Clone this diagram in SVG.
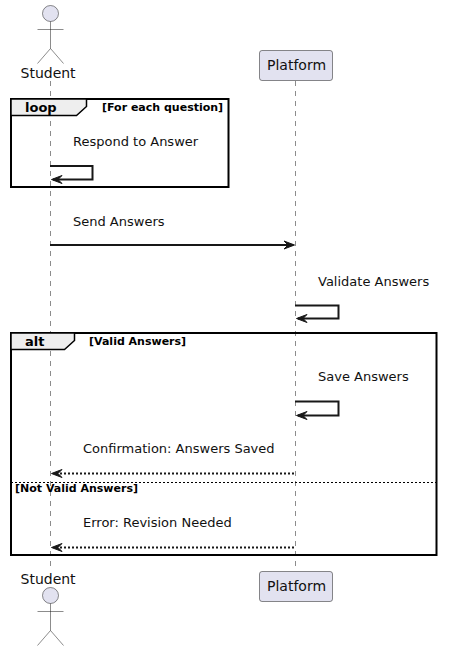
<svg xmlns="http://www.w3.org/2000/svg" width="450" height="651" viewBox="0 0 450 651">
<style>
text{font-family:"DejaVu Sans",sans-serif;fill:#000}
.name{font-size:14px;fill:#111}
.msg{font-size:13px;fill:#111}
.title{font-size:13px;font-weight:bold}
.cond{font-size:11px;font-weight:bold}
.life{stroke:#181818;stroke-width:.5;stroke-dasharray:5 5;fill:none}
.actor{fill:#E2E2F0;stroke:#181818;stroke-width:.5}
.limb{fill:none;stroke:#181818;stroke-width:.5}
.box{fill:#E2E2F0;stroke:#181818;stroke-width:.5}
.frame{fill:none;stroke:#000;stroke-width:2}
.tab{fill:#EEEEEE;stroke:#000;stroke-width:1.5}
.m{fill:none;stroke:#181818;stroke-width:2}
.d{stroke-dasharray:2 2}
.sep{stroke:#000;stroke-width:1;stroke-dasharray:2 2;fill:none}
.head{fill:#181818;stroke:#181818;stroke-width:1}
</style>
<g id="lifelines">
<line class="life" x1="50.5" y1="81" x2="50.5" y2="571"/>
<line class="life" x1="295.5" y1="81" x2="295.5" y2="571"/>
</g>
<g id="loop-frame">
<rect class="frame" x="11" y="99" width="217.500" height="88"/>
<path class="tab" d="M11 99H86.500V106.500L76.500 115.500H11Z"/>
<text class="title" x="25" y="112">loop</text>
<text class="cond" x="102" y="111">[For each question]</text>
</g>
<g id="alt-frame">
<rect class="frame" x="11" y="333" width="425.500" height="222"/>
<path class="tab" d="M11 333H74.500V340.500L64.500 349.500H11Z"/>
<text class="title" x="25" y="346">alt</text>
<text class="cond" x="89" y="345">[Valid Answers]</text>
<line class="sep" x1="11" y1="482.500" x2="436" y2="482.500"/>
<text class="cond" x="15" y="492">[Not Valid Answers]</text>
</g>
<g id="connectors">
<path class="m" d="M50 166H92.500V179.500H53"/>
<path class="head" d="M62 175.500 51.500 179.500 62 183.500 58 179.500Z"/>
<line class="m" x1="50" y1="245" x2="293" y2="245"/>
<path class="head" d="M284 241 294.500 245 284 249 288 245Z"/>
<path class="m" d="M295 305.500H338.500V318.500H298"/>
<path class="head" d="M307 314.500 296.500 318.500 307 322.500 303 318.500Z"/>
<path class="m" d="M295 401.500H338.500V415.500H298"/>
<path class="head" d="M307 411.500 296.500 415.500 307 419.500 303 415.500Z"/>
<line class="m d" x1="294" y1="473.500" x2="54" y2="473.500"/>
<path class="head" d="M62 469.500 51.500 473.500 62 477.500 58 473.500Z"/>
<line class="m d" x1="294" y1="547.500" x2="54" y2="547.500"/>
<path class="head" d="M62 543.500 51.500 547.500 62 551.500 58 547.500Z"/>
</g>
<g id="labels">
<text class="msg" x="73" y="146">Respond to Answer</text>
<text class="msg" x="73" y="226">Send Answers</text>
<text class="msg" x="318" y="286">Validate Answers</text>
<text class="msg" x="318" y="381">Save Answers</text>
<text class="msg" x="83" y="453">Confirmation: Answers Saved</text>
<text class="msg" x="83" y="527">Error: Revision Needed</text>
</g>
<g id="student-top">
<circle class="actor" cx="50.500" cy="13.500" r="8"/>
<path class="limb" d="M50.500 21.500V48.500M37.500 29.500H63.500M37.500 63.500 50.500 48.500 63.500 63.500"/>
<text class="name" x="20.500" y="78">Student</text>
</g>
<g id="platform-top">
<rect class="box" x="259.500" y="50.500" width="73" height="30" rx="2.500"/>
<text class="name" x="267" y="70">Platform</text>
</g>
<g id="student-bottom">
<text class="name" x="20.500" y="584">Student</text>
<circle class="actor" cx="50.500" cy="595.500" r="8"/>
<path class="limb" d="M50.500 603.500V630.500M37.500 611.500H63.500M37.500 645.500 50.500 630.500 63.500 645.500"/>
</g>
<g id="platform-bottom">
<rect class="box" x="259.500" y="571.500" width="73" height="30" rx="2.500"/>
<text class="name" x="267" y="591">Platform</text>
</g>
</svg>
